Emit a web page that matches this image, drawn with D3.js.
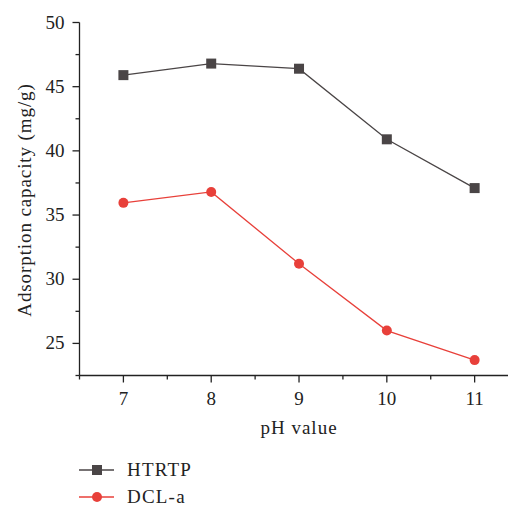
<!DOCTYPE html>
<html><head><meta charset="utf-8">
<script src="https://cdn.jsdelivr.net/npm/d3@7"></script>
<style>body{margin:0;background:#fff}svg{display:block}text{font-family:"Liberation Serif","DejaVu Serif",serif;fill:#222}</style>
</head><body>
<script>
const phValues = [7, 8, 9, 10, 11];
const htrtp = [45.9, 46.8, 46.4, 40.9, 37.1];
const dcla = [35.95, 36.8, 31.2, 26.0, 23.7];
const xTicks = [7, 8, 9, 10, 11];
const yTicks = [25, 30, 35, 40, 45, 50];
const seriesNames = ["HTRTP", "DCL-a"];

const W = 509, H = 507;
const svg = d3.select("body").append("svg").attr("width", W).attr("height", H);
const x = d3.scaleLinear().domain([6.5, 11.38]).range([79.5, 508]);
const y = d3.scaleLinear().domain([22.5, 50]).range([375.5, 22.5]);

const gx = svg.append("g").attr("transform", `translate(0,${y(22.5)})`);
gx.append("line").attr("x1", x(6.5)).attr("x2", x(11.38)).attr("stroke", "#222").attr("stroke-width", 1.3);
gx.selectAll(".mj").data(xTicks).join("line").attr("x1", d => x(d)).attr("x2", d => x(d)).attr("y1", 0).attr("y2", 7).attr("stroke", "#222").attr("stroke-width", 1.3);
gx.selectAll(".mn").data([6.5, 7.5, 8.5, 9.5, 10.5]).join("line").attr("x1", d => x(d)).attr("x2", d => x(d)).attr("y1", 0).attr("y2", 4).attr("stroke", "#222").attr("stroke-width", 1.3);
gx.selectAll("text").data(xTicks).join("text").attr("x", d => x(d)).attr("y", 29).attr("text-anchor", "middle").attr("font-size", 19).text(d => d);

const gy = svg.append("g").attr("transform", `translate(${x(6.5)},0)`);
gy.append("line").attr("y1", y(22.5)).attr("y2", y(50)).attr("stroke", "#222").attr("stroke-width", 1.3);
gy.selectAll(".mj").data(yTicks).join("line").attr("y1", d => y(d)).attr("y2", d => y(d)).attr("x1", 0).attr("x2", -7).attr("stroke", "#222").attr("stroke-width", 1.3);
gy.selectAll(".mn").data([22.5, 27.5, 32.5, 37.5, 42.5, 47.5]).join("line").attr("y1", d => y(d)).attr("y2", d => y(d)).attr("x1", 0).attr("x2", -4).attr("stroke", "#222").attr("stroke-width", 1.3);
gy.selectAll("text").data(yTicks).join("text").attr("x", -15).attr("y", d => y(d) + 6).attr("text-anchor", "end").attr("font-size", 19).text(d => d);

svg.append("text").attr("x", x(9)).attr("y", 434).attr("text-anchor", "middle").attr("font-size", 19).attr("letter-spacing", 1).text("pH value");
svg.append("text").attr("transform", `translate(31,${(y(22.5) + y(50)) / 2 + 1}) rotate(-90)`).attr("text-anchor", "middle").attr("font-size", 19).attr("letter-spacing", 0.9).text("Adsorption capacity (mg/g)");

const gray = "#4a4546", red = "#e8403a";
const line = d3.line().x((d, i) => x(phValues[i])).y(d => y(d));
svg.append("path").datum(htrtp).attr("d", line).attr("fill", "none").attr("stroke", gray).attr("stroke-width", 1.3);
svg.append("path").datum(dcla).attr("d", line).attr("fill", "none").attr("stroke", red).attr("stroke-width", 1.3);
svg.selectAll(".sq").data(htrtp).join("rect").attr("x", (d, i) => x(phValues[i]) - 5).attr("y", d => y(d) - 5).attr("width", 10).attr("height", 10).attr("fill", gray);
svg.selectAll(".ci").data(dcla).join("circle").attr("cx", (d, i) => x(phValues[i])).attr("cy", d => y(d)).attr("r", 5).attr("fill", red);

const leg = svg.append("g");
const ly = [470, 497];
seriesNames.forEach((n, i) => {
  const c = i === 0 ? gray : red;
  leg.append("line").attr("x1", 79).attr("x2", 114).attr("y1", ly[i]).attr("y2", ly[i]).attr("stroke", c).attr("stroke-width", 1.3);
  if (i === 0) leg.append("rect").attr("x", 92).attr("y", ly[i] - 5).attr("width", 10).attr("height", 10).attr("fill", c);
  else leg.append("circle").attr("cx", 97).attr("cy", ly[i]).attr("r", 5).attr("fill", c);
  leg.append("text").attr("x", 127).attr("y", ly[i] + 6).attr("font-size", 19).attr("letter-spacing", 1.2).text(n);
});
</script>
</body></html>
